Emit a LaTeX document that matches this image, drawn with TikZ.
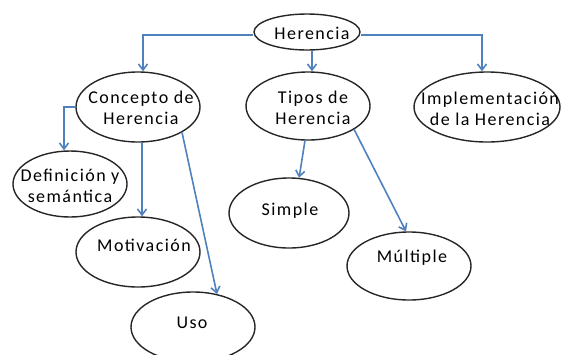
\documentclass[tikz,border=0pt]{standalone}
\usepackage{fontspec}
\setmainfont{Carlito}[LetterSpace=8]
\usetikzlibrary{shapes.geometric,arrows.meta,calc}
\definecolor{linkblue}{HTML}{4F81BD}
\begin{document}
\begin{tikzpicture}[x=1pt,y=-1pt,
  oval/.style={ellipse,draw=black!85,line width=1.4pt,inner sep=0pt},
  lbl/.style={font=\fontsize{18}{21.5}\selectfont,align=center,inner sep=0pt},
  arr/.style={draw=linkblue,line width=1.6pt,-{Straight Barb[length=6pt,width=9pt]}}]
\useasboundingbox (0,0) rectangle (561,354);
% ellipses
\node[oval,minimum width=106pt,minimum height=36pt] (her) at (307,32) {};
\node[oval,minimum width=124pt,minimum height=70pt] (con) at (138,107) {};
\node[oval,minimum width=124pt,minimum height=68pt] (tip) at (308,106) {};
\node[oval,minimum width=146pt,minimum height=70pt] (imp) at (487,107) {};
\node[oval,minimum width=114pt,minimum height=66pt] (def) at (70,184) {};
\node[oval,minimum width=124pt,minimum height=70pt] (mot) at (138,252) {};
\node[oval,minimum width=124pt,minimum height=70pt] (uso) at (193,327) {};
\node[oval,minimum width=120pt,minimum height=70pt] (sim) at (289,213) {};
\node[oval,minimum width=124pt,minimum height=68pt] (mul) at (409,266) {};
% texts
\node[lbl] (therr) at (312,33) {Herencia};
\node[lbl] (tcon) at (141,108) {Concepto de\\Herencia};
\node[lbl] (ttip) at (313,108) {Tipos de\\Herencia};
\node[lbl] (timp) at (490,109) {Implementación\\de la Herencia};
\node[lbl] (tdef) at (70,186) {Definición y\\semántica};
\node[lbl] (tmot) at (144,245) {Motivación};
\node[lbl] (tuso) at (192,323) {Uso};
\node[lbl] (tsim) at (290,211) {Simple};
\node[lbl] (tmul) at (412,258) {Múltiple};
% connectors
\draw[arr] ($(her.west)+(0,3)$) -| ($(con.north)+(5,0)$);
\draw[arr] ($(her.south)+(5,0)$) coordinate (a2) -- (a2 |- tip.north);
\draw[arr] ($(her.east)+(0,3)$) -| ($(imp.north)+(-5,0)$);
\draw[arr] (con.west) -| ($(def.north)+(-6,0)$);
\draw[arr] ($(con.south)+(4,0)$) coordinate (a5) -- (a5 |- mot.north);
\draw[arr] (con.-30) -- (uso.54);
\draw[arr] (tip.-95) -- (sim.74);
\draw[arr] (tip.-27) -- (mul.95);
\end{tikzpicture}
\end{document}
